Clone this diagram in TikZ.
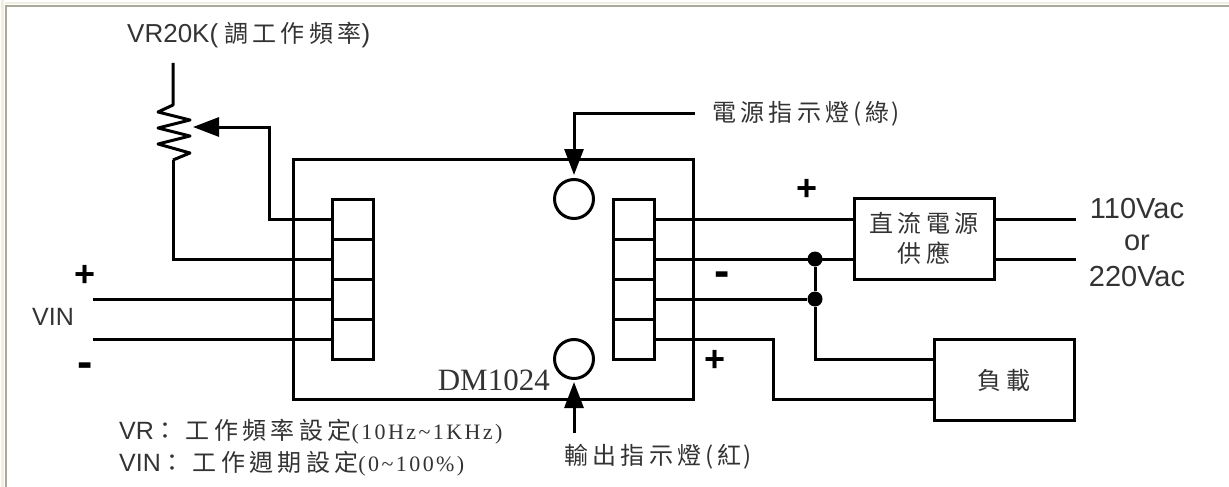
\documentclass[tikz,border=0pt]{standalone}
\usepackage{fontspec}
\setmainfont{Liberation Sans}
\newfontfamily\cjk[LetterSpace=18]{Noto Sans CJK TC}
\newfontfamily\serif{Liberation Serif}
\newfontfamily\serifwide[LetterSpace=11]{Liberation Serif}
\usetikzlibrary{arrows.meta}
\definecolor{framegrey}{HTML}{ACA899}
\definecolor{framecream}{HTML}{F1EFE2}
\definecolor{labelgrey}{HTML}{333333}
\newcommand{\cjksize}{\fontsize{24}{30}\selectfont}
\tikzset{
  wire/.style={line width=3pt, line join=miter},
  pointer/.style={wire, -{Triangle[length=26pt,width=19pt]}},
  cell/.style={draw, line width=3pt, minimum width=41pt, minimum height=40pt, inner sep=0pt},
  block/.style={draw, line width=3pt, inner sep=0pt},
  lamp/.style={draw, circle, line width=3pt, minimum size=39pt, inner sep=0pt},
  dot/.style={circle, fill=black, minimum size=15pt, inner sep=0pt},
  label/.style={font=\fontsize{25}{28}\selectfont, text=labelgrey, inner sep=0pt},
  mains/.style={font=\fontsize{29}{30}\selectfont, text=labelgrey, inner sep=0pt},
  cjklabel/.style={font=\cjksize\cjk, text=labelgrey, inner sep=0pt},
  sign/.style={font=\fontsize{36}{36}\selectfont\bfseries, inner sep=0pt},
  dash sign/.style={font=\fontsize{46}{46}\selectfont\bfseries, inner sep=0pt}
}
\begin{document}
\begin{tikzpicture}[x=1pt, y=-1pt]
\useasboundingbox (0,0) rectangle (1229,487);
% window frame
\draw[framecream, line width=2.5pt] (2.5,0) -- (2.5,487);
\draw[framecream, line width=2pt] (5,3) -- (1229,3);
\draw[framegrey, line width=2pt] (1229,6.5) -- (6,6.5) -- (6,487);

% module with its two terminal strips
\node[block, minimum width=400pt, minimum height=240pt] (module) at (493,279.5) {};
\foreach \row/\ypos in {a/219, b/259, c/299, d/339} {
  \node[cell] (left\row) at (353,\ypos) {};
  \node[cell] (right\row) at (633.5,\ypos) {};
}
\node[lamp] (lamptop) at (574,199) {};
\node[lamp] (lampbottom) at (574,359) {};
\node[font=\fontsize{31}{31}\selectfont\serif, inner sep=0pt, anchor=east, text=labelgrey] (model) at (550,380) {DM1024};

% blocks on the right
\node[block, minimum width=140pt, minimum height=81pt, align=center, cjklabel] (supply) at (924,238.5) {\raisebox{-3pt}{直流電源}\\\raisebox{-3pt}{供應}};
\node[block, minimum width=140pt, minimum height=81pt, cjklabel] (load) at (1004,380) {\raisebox{-2pt}{負載}};

% variable resistor
\coordinate (vrtop) at (173,63);
\coordinate (vrfoot) at (173,160);
\coordinate (wiper) at (193,127);
\coordinate (wiperbend) at (269,127);
\draw[wire, line join=round] (vrtop) -- (173,105) -- (158,112) -- (190,120) -- (158,128) -- (190,136) -- (158,144) -- (190,153) -- (vrfoot);
\draw[wire] (vrfoot) |- (leftb.west);
\draw[pointer] (lefta.west) -| (wiperbend) -- (wiper);
\node[label, anchor=west] (vrname) at (127,35) {\fontsize{26}{28}\selectfont VR20K(\hspace{6pt}\cjksize\cjk 調工作頻率\fontsize{26}{28}\rmfamily\selectfont)};

% input
\coordinate (vinplus) at (93,299);
\coordinate (vinminus) at (93,339);
\draw[wire] (vinplus) -- (leftc.west);
\draw[wire] (vinminus) -- (leftd.west);
\node[sign] (plusin) at (85,276) {+};
\node[dash sign] (minusin) at (85,370) {-};
\node[label] (vin) at (53,317) {VIN};

% lamp pointers
\coordinate (greenend) at (695,113);
\coordinate (greenbend) at (574,113);
\coordinate (redend) at (574,433);
\draw[pointer, shorten >=3pt] (greenend) -- (greenbend) -- (lamptop.north);
\draw[pointer, shorten >=2pt] (redend) -- (lampbottom.south);
\node[cjklabel, anchor=west] (greenlabel) at (712,114) {電源指示燈(\hspace{4pt}綠\hspace{2pt})};
\node[cjklabel, anchor=west] (redlabel) at (564,457) {輸出指示燈(\hspace{4pt}紅\hspace{2pt})};

% supply and load wiring
\draw[wire] (righta.east) -- (supply.west |- righta.east);
\draw[wire] (rightb.east) -- (supply.west |- rightb.east);
\node[dot] (dotupper) at (815,259) {};
\node[dot] (dotlower) at (815,299) {};
\draw[wire] (rightc.east) -- (dotlower);
\draw[wire] (dotupper) -- (dotlower);
\coordinate (loadminus) at (934,359);
\coordinate (loadplus) at (934,399);
\coordinate (plusbend) at (773,339);
\draw[wire] (dotlower) |- (loadminus);
\draw[wire] (rightd.east) -- (plusbend) |- (loadplus);
\node[sign] (plusupper) at (807,190) {+};
\node[dash sign] (minusmid) at (722,279) {-};
\node[sign] (pluslower) at (715,361) {+};

% mains side
\coordinate (mainsa) at (1076,219);
\coordinate (mainsb) at (1076,259);
\draw[wire] (supply.east |- mainsa) -- (mainsa);
\draw[wire] (supply.east |- mainsb) -- (mainsb);
\node[mains] (volta) at (1137,209) {110Vac};
\node[mains] (voltor) at (1137,243) {or};
\node[mains] (voltb) at (1137,277) {220Vac};

% notes
\node[label, anchor=west] (notevr) at (119,432) {VR\cjksize\cjk ：\hspace{8pt}工作頻率設定\fontsize{22}{28}\serifwide\selectfont(10Hz\textasciitilde 1KHz)};
\node[label, anchor=west] (notevin) at (119,464) {VIN\cjksize\cjk ：\hspace{8pt}工作週期設定\fontsize{22}{28}\serifwide\selectfont(0\textasciitilde 100\%)};
\end{tikzpicture}
\end{document}
